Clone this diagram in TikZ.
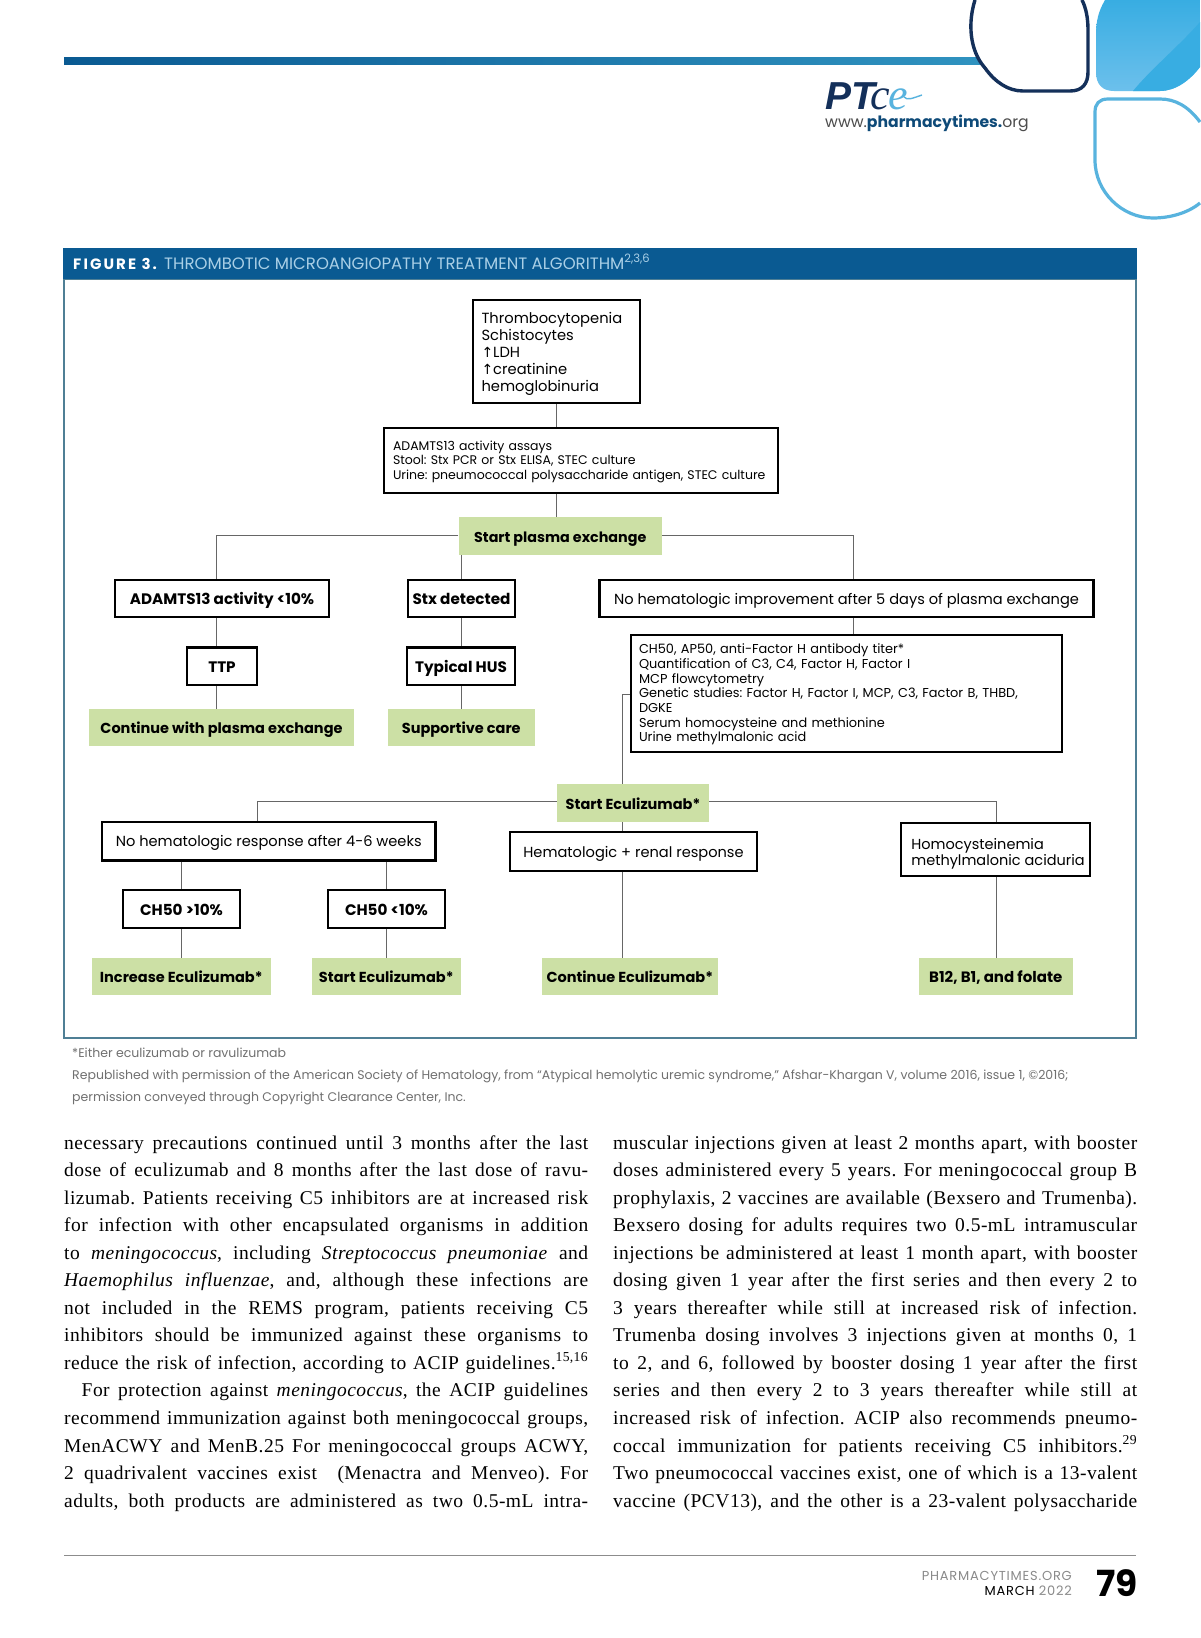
\documentclass[tikz,border=0pt]{standalone}
\usepackage{fontspec}
\setmainfont{Liberation Serif}
\newfontfamily\pop{Poppins}
\newfontfamily\djv{DejaVu Sans}
\newfontfamily\ars{Liberation Sans}
\newfontfamily\lser{Liberation Serif}[LetterSpace=2.5]
\newfontfamily\lserp{Liberation Serif}
\AtBeginDocument{\frenchspacing}
\usetikzlibrary{calc}
\definecolor{hdr}{HTML}{0A5A92}
\definecolor{frm}{HTML}{4F7F95}
\definecolor{grn}{HTML}{CCE0A5}
\definecolor{conn}{HTML}{666666}
\definecolor{navy}{HTML}{14305A}
\definecolor{sky}{HTML}{38ADE2}
\definecolor{skyl}{HTML}{6CC0EC}
\definecolor{skyo}{HTML}{58B3DE}
\definecolor{hdt}{HTML}{A9CFE6}
\definecolor{fn}{HTML}{707070}
\definecolor{pub}{HTML}{0E4A78}
\definecolor{ftg}{HTML}{8A8A8A}
\newcommand{\up}{{\djv\fontsize{14}{14}\selectfont ↑}}
\newcommand{\mbx}[7]{\node[#1, minimum width={(#5-#3)*1pt}, minimum height={(#6-#4)*1pt}] (#2) at ({(#3+#5)/2},{(#4+#6)/2}) {#7};}
\newcommand{\jl}[3]{\node[bodyl] (#1) at (#2) {\makebox[524pt][s]{#3}};}
\tikzset{
  bx/.style={draw=black,line width=2.4pt,fill=white,inner sep=0pt,text height=11pt,text depth=0pt,font=\pop\fontsize{14.6}{17}\selectfont},
  bxm/.style={draw=black,line width=2.4pt,fill=white,inner sep=0pt,align=left,font=\pop\fontsize{14.7}{17}\selectfont},
  bxs/.style={draw=black,line width=2.4pt,fill=white,inner sep=0pt,align=left,font=\pop\fontsize{12.7}{14.6}\selectfont},
  bb/.style={bx,text height=12pt,font=\pop\bfseries\fontsize{15.2}{16}\selectfont},
  gn/.style={fill=grn,inner sep=0pt,text height=12pt,text depth=0pt,font=\pop\bfseries\fontsize{14.5}{16}\selectfont},
  cn/.style={draw=conn,line width=1pt},
  bodyl/.style={anchor=base west,inner sep=0pt,font=\lser\fontsize{19.5}{22}\selectfont},
  fnt/.style={anchor=base west,inner sep=0pt,text=fn,font=\pop\fontsize{12.5}{14}\selectfont},
  ftr/.style={anchor=base east,inner sep=0pt,font=\pop\fontsize{13}{15}\selectfont},
}
\begin{document}
\begin{tikzpicture}[x=1pt,y=-1pt]
\useasboundingbox (0,0) rectangle (1200,1638);
\fill[white] (0,0) rectangle (1200,1638);
% top band and shapes
\shade[left color=hdr,right color=sky!85!black] (64,57.5) rectangle (990,64);
\filldraw[fill=white,draw=navy,line width=3.4pt] (975,0) .. controls (968,22) and (969,50) .. (985,68) .. controls (995,82) and (1008,91) .. (1023,91) -- (1070,91) .. controls (1082,91) and (1088,84) .. (1088,72) -- (1088,30) .. controls (1088,18) and (1086,8) .. (1082,0);
\path[top color=sky,bottom color=skyl] (1105,0) .. controls (1098,12) and (1096,22) .. (1096,35) -- (1096,72) .. controls (1096,84) and (1102,91) .. (1114,91) -- (1160,91) .. controls (1176,91) and (1190,80) .. (1200,67) -- (1200,0) -- cycle;
\fill[sky] (1133,91) .. controls (1150,70) and (1180,45) .. (1200,22) -- (1200,67) .. controls (1190,80) and (1176,91) .. (1160,91) -- cycle;
\draw[draw=skyo,line width=3.2pt] (1200,122) .. controls (1188,106) and (1175,99) .. (1160,99) -- (1108,99) .. controls (1099,99) and (1095,104) .. (1095,112) -- (1095,160) .. controls (1095,192) and (1122,218) .. (1153,218) .. controls (1170,218) and (1188,213) .. (1200,203);
% logo
\node[anchor=base west,inner sep=0pt,text=navy,font=\ars\bfseries\itshape\fontsize{39}{39}\selectfont] (logoa) at (825,109) {PT};
\node[anchor=base west,inner sep=0pt,text=navy,font=\lserp\itshape\fontsize{44}{44}\selectfont] (logob) at (870,109) {c};
\node[anchor=base west,inner sep=0pt,text=skyo,font=\lserp\itshape\fontsize{44}{44}\selectfont] (logoc) at (888,109) {e};
\draw[skyo,line width=1.4pt] (logoc.east) ++(-4,-2) .. controls (907,101) and (913,98) .. (922,95);
\node[anchor=base west,inner sep=0pt,font=\pop\fontsize{15.65}{16}\selectfont] (logourl) at (825,127.5) {\textcolor{black!70}{www.}\textcolor{pub}{\bfseries pharmacytimes.}\textcolor{black!70}{org}};
% figure frame
\draw[frm,line width=1.6pt] (64,279) rectangle (1136,1038);
\fill[hdr] (63.2,248) rectangle (1136.8,279);
\node[anchor=base west,inner sep=0pt,text=white,font=\pop\bfseries\fontsize{15}{16}\selectfont] (figa) at (73,269) {\addfontfeatures{LetterSpace=14}FIGURE 3.};
\node[anchor=base west,inner sep=0pt,text=hdt,font=\pop\fontsize{16.5}{18}\selectfont] (figb) at (164,269) {THROMBOTIC MICROANGIOPATHY TREATMENT ALGORITHM\textsuperscript{2,3,6}};
% boxes
\mbx{bxm,text width=150pt}{sym}{473}{300}{640}{403}{\rule{0pt}{15.5pt}Thrombocytopenia\\Schistocytes\\\up LDH\\\up creatinine\\hemoglobinuria}
\mbx{bxs,text width=376pt,font=\pop\fontsize{12.5}{14.6}\selectfont}{assay}{384}{428}{778}{493}{\rule{0pt}{12pt}ADAMTS13 activity assays\\Stool: Stx PCR or Stx ELISA, STEC culture\\\mbox{Urine: pneumococcal polysaccharide antigen, STEC culture}}
\mbx{gn,font=\pop\bfseries\fontsize{14.3}{16}\selectfont}{plasma}{458.5}{517}{662}{555}{Start plasma exchange}
\mbx{bb}{adam}{115}{580}{329}{617}{ADAMTS13 activity <10\%}
\mbx{bb}{stx}{408}{580}{515}{617}{Stx detected}
\mbx{bx}{nohem}{599.5}{580}{1093.5}{617}{No hematologic improvement after 5 days of plasma exchange}
\mbx{bb}{ttp}{187}{647.5}{257}{685}{TTP}
\mbx{bb}{hus}{407}{647.5}{515}{685}{Typical HUS}
\mbx{gn}{contpl}{89}{709}{354}{746}{Continue with plasma exchange}
\mbx{gn}{supp}{387.5}{709}{535}{746}{Supportive care}
\mbx{bxs,text width=415pt,font=\pop\fontsize{12.9}{14.7}\selectfont}{tests}{631}{635}{1062}{752}{\rule{0pt}{12pt}CH50, AP50, anti-Factor H antibody titer*\\Quantification of C3, C4, Factor H, Factor I\\MCP flowcytometry\\Genetic studies: Factor H, Factor I, MCP, C3, Factor B, THBD,\\DGKE\\Serum homocysteine and methionine\\Urine methylmalonic acid}
\mbx{gn}{ecu}{557}{784}{709}{822}{Start Eculizumab*}
\mbx{bx}{nores}{102}{822}{435.5}{860.5}{No hematologic response after 4-6 weeks}
\mbx{bx}{renal}{510}{832}{757}{871}{Hematologic + renal response}
\mbx{bxm,font=\pop\fontsize{14.5}{14.6}\selectfont}{homo}{901}{823}{1090}{876}{\rule{0pt}{19pt}\hspace*{5pt}Homocysteinemia\\\hspace*{5pt}methylmalonic aciduria}
\mbx{bb}{chh}{123}{890}{240}{928}{CH50 >10\%}
\mbx{bb}{chl}{328}{890}{445}{928}{CH50 <10\%}
\mbx{gn}{incr}{92}{958}{270.5}{995}{Increase Eculizumab*}
\mbx{gn}{start}{312}{958}{460.5}{995}{Start Eculizumab*}
\mbx{gn}{cont}{542}{958}{717.5}{995}{Continue Eculizumab*}
\mbx{gn,font=\pop\bfseries\fontsize{15}{16}\selectfont}{bvit}{919}{958}{1072.5}{995}{B12, B1, and folate}
% trunks
\coordinate (ax) at (216,0);
\coordinate (hx) at (853,0);
\coordinate (ex) at (622.5,0);
\coordinate (lx) at (257,0);
\coordinate (hmx) at (996,0);
\coordinate (c1x) at (181.5,0);
\coordinate (c2x) at (386,0);
% connectors
\draw[cn] (sym.south) -- (assay.north -| sym.south);
\draw[cn] (assay.south -| sym.south) -- (plasma.north -| sym.south);
\draw[cn] ([yshift=1pt]plasma.west) -| (adam.north -| ax);
\draw[cn] (plasma.south -| stx.north) -- (stx.north);
\draw[cn] ([yshift=1pt]plasma.east) -| (nohem.north -| hx);
\draw[cn] (adam.south -| ax) -- (ttp.north -| ax);
\draw[cn] (ttp.south -| ax) -- (contpl.north -| ax);
\draw[cn] (stx.south) -- (hus.north -| stx.south);
\draw[cn] (hus.south -| stx.south) -- (supp.north -| stx.south);
\draw[cn] (nohem.south -| hx) -- (tests.north -| hx);
\draw[cn] ([yshift=-0.5pt]tests.west) -| (ecu.north -| ex);
\draw[cn] ([yshift=2pt]ecu.west) -| (nores.north -| lx);
\draw[cn] ([yshift=2pt]ecu.east) -| (homo.north -| hmx);
\draw[cn] (ecu.south -| ex) -- (renal.north -| ex);
\draw[cn] (renal.south -| ex) -- (cont.north -| ex);
\draw[cn] (homo.south -| hmx) -- (bvit.north -| hmx);
\draw[cn] (nores.south -| c1x) -- (chh.north -| c1x);
\draw[cn] (chh.south -| c1x) -- (incr.north -| c1x);
\draw[cn] (nores.south -| c2x) -- (chl.north -| c2x);
\draw[cn] (chl.south -| c2x) -- (start.north -| c2x);
% footnotes
\node[fnt] (fa) at (72,1057) {*Either eculizumab or ravulizumab};
\node[fnt] (fb) at (72,1079) {Republished with permission of the American Society of Hematology, from “Atypical hemolytic uremic syndrome,” Afshar-Khargan V, volume 2016, issue 1, ©2016;};
\node[fnt] (fc) at (72,1101) {permission conveyed through Copyright Clearance Center, Inc.};
% body left
\jl{la}{64,1149}{necessary precautions continued until 3 months after the last}
\jl{lb}{64,1176.55}{dose of eculizumab and 8 months after the last dose of ravu-}
\jl{lc}{64,1204.1}{lizumab. Patients receiving C5 inhibitors are at increased risk}
\jl{ld}{64,1231.65}{for infection with other encapsulated organisms in addition}
\jl{le}{64,1259.2}{to \textit{meningococcus}, including \textit{Streptococcus pneumoniae} and}
\jl{lf}{64,1286.75}{\textit{Haemophilus influenzae}, and, although these infections are}
\jl{lg}{64,1314.3}{not included in the REMS program, patients receiving C5}
\jl{lh}{64,1341.85}{inhibitors should be immunized against these organisms to}
\jl{li}{64,1369.4}{reduce the risk of infection, according to ACIP guidelines.\textsuperscript{15,16}}
\node[bodyl] (lj) at (81.5,1396.95) {\makebox[506.5pt][s]{For protection against \textit{meningococcus}, the ACIP guidelines}};
\jl{lk}{64,1424.5}{recommend immunization against both meningococcal groups,}
\jl{ll}{64,1452.05}{MenACWY and MenB.25 For meningococcal groups ACWY,}
\jl{lm}{64,1479.6}{2 quadrivalent vaccines exist \ (Menactra and Menveo). For}
\jl{ln}{64,1507.15}{adults, both products are administered as two 0.5-mL intra-}
% body right
\jl{ra}{613,1149}{muscular injections given at least 2 months apart, with booster}
\jl{rb}{613,1176.55}{doses administered every 5 years. For meningococcal group B}
\jl{rc}{613,1204.1}{prophylaxis, 2 vaccines are available (Bexsero and Trumenba).}
\jl{rd}{613,1231.65}{Bexsero dosing for adults requires two 0.5-mL intramuscular}
\jl{re}{613,1259.2}{injections be administered at least 1 month apart, with booster}
\jl{rf}{613,1286.75}{dosing given 1 year after the first series and then every 2 to}
\jl{rg}{613,1314.3}{3 years thereafter while still at increased risk of infection.}
\jl{rh}{613,1341.85}{Trumenba dosing involves 3 injections given at months 0, 1}
\jl{ri}{613,1369.4}{to 2, and 6, followed by booster dosing 1 year after the first}
\jl{rj}{613,1396.95}{series and then every 2 to 3 years thereafter while still at}
\jl{rk}{613,1424.5}{increased risk of infection. ACIP also recommends pneumo-}
\jl{rl}{613,1452.05}{coccal immunization for patients receiving C5 inhibitors.\textsuperscript{29}}
\jl{rm}{613,1479.6}{Two pneumococcal vaccines exist, one of which is a 13-valent}
\jl{rn}{613,1507.15}{vaccine (PCV13), and the other is a 23-valent polysaccharide}
% footer
\draw[black!45,line width=1pt] (64,1555) -- (1136,1555);
\node[ftr,text=ftg] (fp) at (1072,1580) {\addfontfeatures{LetterSpace=6}PHARMACYTIMES.ORG};
\node[ftr] (fm) at (1072,1595) {\addfontfeatures{LetterSpace=6}\textcolor{black}{MARCH} \textcolor{ftg}{2022}};
\node[anchor=base east,inner sep=0pt,font=\pop\bfseries\fontsize{36}{38}\selectfont] (pg) at (1138,1596) {79};
\end{tikzpicture}
\end{document}
